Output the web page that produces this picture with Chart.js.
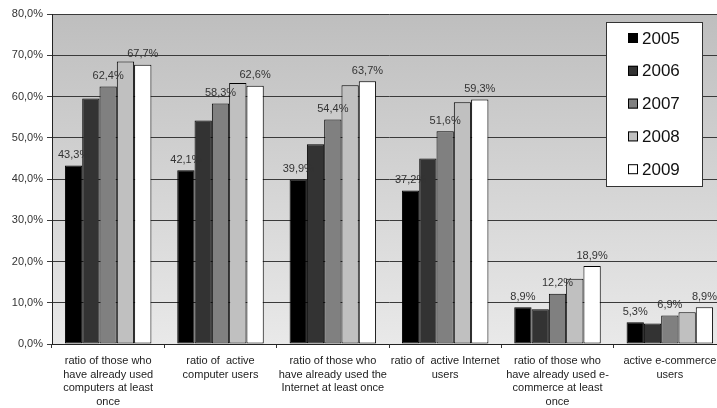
<!DOCTYPE html>
<html>
<head>
<meta charset="utf-8">
<script src="https://cdn.jsdelivr.net/npm/chart.js@4/dist/chart.umd.min.js"></script>
<style>
    html, body { margin: 0; padding: 0; background: #fff; overflow: hidden; }
    #wrap { width: 726px; height: 408px; position: relative; }
</style>
</head>
<body>
<div id="wrap"><canvas id="chart" width="726" height="408"></canvas></div>
<script>
// Categories (multi-line labels as in the original)
const categories = [
    ["ratio of those who", "have already used", "computers at least", "once"],
    ["ratio of  active", "computer users"],
    ["ratio of those who", "have already used the", "Internet at least once"],
    ["ratio of  active Internet", "users"],
    ["ratio of those who", "have already used e-", "commerce at least", "once"],
    ["active e-commerce", "users"]
];

const years = ["2005", "2006", "2007", "2008", "2009"];

// Values per year (%)
const values2005 = [43.3, 42.1, 39.9, 37.2, 8.9, 5.3];
const values2006 = [59.5, 54.2, 48.4, 45.0, 8.4, 5.0];
const values2007 = [62.4, 58.3, 54.4, 51.6, 12.2, 6.9];
const values2008 = [68.5, 63.3, 62.7, 58.6, 15.8, 7.7];
const values2009 = [67.7, 62.6, 63.7, 59.3, 18.9, 8.9];

const yMin = 0, yMax = 80, yStep = 10;

// Only these series carry value labels in the original
const labeledSeries = [0, 2, 4];

const seriesValues = [values2005, values2006, values2007, values2008, values2009];
const seriesColors = ["#000000", "#333333", "#808080", "#c0c0c0", "#ffffff"];

const FONT = "'Liberation Sans', Arial, sans-serif";

function pct(v) {
    return v.toFixed(1).replace(".", ",") + "%";
}

// Gradient plot background
const plotBackground = {
    id: "plotBackground",
    beforeDraw(chart) {
        const { ctx, chartArea: a } = chart;
        const g = ctx.createLinearGradient(0, a.top, 0, a.bottom);
        g.addColorStop(0, "#bebebe");
        g.addColorStop(1, "#e9e9e9");
        ctx.save();
        ctx.fillStyle = g;
        ctx.fillRect(a.left, a.top, a.right - a.left, a.bottom - a.top);
        ctx.restore();
    }
};

// Value labels above bars
const valueLabels = {
    id: "valueLabels",
    afterDatasetsDraw(chart) {
        const ctx = chart.ctx;
        ctx.save();
        ctx.font = "11px " + FONT;
        ctx.fillStyle = "#333";
        ctx.textAlign = "center";
        ctx.textBaseline = "bottom";
        labeledSeries.forEach(i => {
            const meta = chart.getDatasetMeta(i);
            meta.data.forEach((bar, j) => {
                ctx.fillText(pct(chart.data.datasets[i].data[j]), bar.x, bar.y - 5);
            });
        });
        ctx.restore();
    }
};

// Boxed legend inside the plot, top right
const boxLegend = {
    id: "boxLegend",
    afterDraw(chart) {
        const ctx = chart.ctx;
        const x = 606, y = 22, w = 96, h = 164;
        ctx.save();
        ctx.fillStyle = "#fff";
        ctx.fillRect(x, y, w, h);
        ctx.strokeStyle = "#333";
        ctx.lineWidth = 1;
        ctx.strokeRect(x + 0.5, y + 0.5, w, h);
        ctx.font = "17px " + FONT;
        ctx.textBaseline = "middle";
        ctx.textAlign = "left";
        chart.data.datasets.forEach((ds, i) => {
            const cy = 38 + i * 32.8;
            ctx.fillStyle = ds.backgroundColor;
            ctx.fillRect(628, cy - 5, 10, 10);
            ctx.strokeStyle = "#000";
            ctx.strokeRect(628.5, cy - 4.5, 9, 9);
            ctx.fillStyle = "#111";
            ctx.fillText(ds.label, 642, cy + 1);
        });
        ctx.restore();
    }
};

new Chart(document.getElementById("chart"), {
    type: "bar",
    data: {
        labels: categories,
        datasets: years.map((year, i) => ({
            label: year,
            data: seriesValues[i],
            backgroundColor: seriesColors[i],
            borderColor: "#000",
            borderWidth: 1,
            borderSkipped: false,
            barPercentage: 1,
            categoryPercentage: 0.77
        }))
    },
    options: {
        responsive: false,
        animation: false,
        devicePixelRatio: 1,
        layout: { padding: { top: 14, left: 0, right: 0, bottom: 0 } },
        plugins: {
            legend: { display: false },
            tooltip: { enabled: false }
        },
        scales: {
            x: {
                afterFit(scale) { scale.height = 64; },
                grid: {
                    offset: true,
                    drawOnChartArea: false,
                    color: "#333",
                    tickLength: 4
                },
                border: { color: "#222", width: 1 },
                ticks: {
                    color: "#222",
                    padding: 6,
                    maxRotation: 0,
                    autoSkip: false,
                    font: { family: FONT, size: 11, lineHeight: 1.25 }
                }
            },
            y: {
                min: yMin,
                max: yMax,
                afterFit(scale) { scale.width = 52; },
                grid: {
                    color: "#3a3a3a",
                    lineWidth: 1,
                    tickLength: 5
                },
                border: { color: "#222", width: 1 },
                ticks: {
                    stepSize: yStep,
                    color: "#333",
                    padding: 4,
                    font: { family: FONT, size: 11 },
                    callback: v => pct(v)
                }
            }
        }
    },
    plugins: [plotBackground, valueLabels, boxLegend]
});
</script>
</body>
</html>
